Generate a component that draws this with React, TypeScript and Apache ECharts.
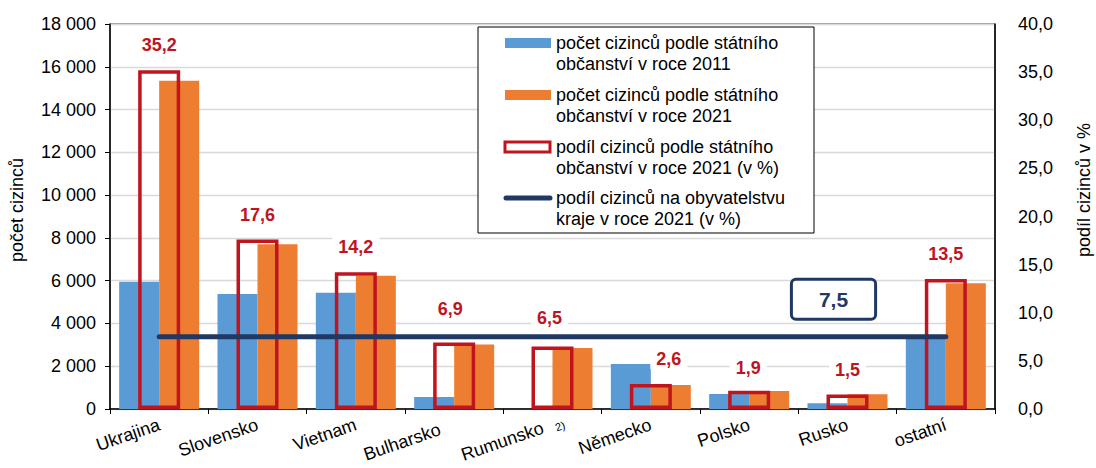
import React, { useEffect, useRef } from "react";
import * as echarts from "echarts";

const categories = ["Ukrajina", "Slovensko", "Vietnam", "Bulharsko", "Rumunsko", "Německo", "Polsko", "Rusko", "ostatní"];
const count2011 = [5950, 5380, 5430, 560, 0, 2100, 700, 270, 3400];
const count2021 = [15350, 7700, 6230, 3020, 2850, 1120, 840, 690, 5880];
const share2021 = [35.2, 17.6, 14.2, 6.9, 6.5, 2.6, 1.9, 1.5, 13.5];
const regionShare = 7.5;
const regionShareLine = categories.map(() => regionShare);
const legendLabels = [
  "počet cizinců podle státního\nobčanství v roce 2011",
  "počet cizinců podle státního\nobčanství v roce 2021",
  "podíl cizinců podle státního\nobčanství v roce 2021 (v %)",
  "podíl cizinců na obyvatelstvu\nkraje v roce 2021 (v %)",
];
const leftTitle = "počet cizinců";
const rightTitle = "podíl cizinců v %";
const footnoteMark = "2)";

const BLUE = "#5B9BD5";
const ORANGE = "#ED7D31";
const RED = "#C0141E";
const NAVY = "#1F3864";
const FONT = "'Liberation Sans', Arial, sans-serif";
const NB = "\u00a0";

// manual label nudges (layout only), as in the original chart
const labelNudge: Record<number, [number, number]> = { 3: [-4, -9], 4: [-3, -3], 5: [18, 0], 6: [-1, 2] };

const fmtThousands = (v: number) => String(v).replace(/\B(?=(\d{3})+(?!\d))/g, " ");
const fmtDec = (v: number) => v.toFixed(1).replace(".", ",");
const catLabel = (v: string) =>
  v === "Bulharsko" ? v + NB + NB + NB : v === "Rumunsko" ? v + NB + NB : v;

export default function App() {
  const ref = useRef<HTMLDivElement>(null);
  useEffect(() => {
    if (!ref.current) return;
    const chart = echarts.init(ref.current, null, { renderer: "svg" });
    const lx = 478, ly = 27;
    const iconYs = [43, 95, 147, 198];
    const legendGraphics: any[] = [
      { type: "rect", shape: { x: lx, y: ly, width: 336, height: 206 }, style: { fill: "#fff", stroke: "#000", lineWidth: 1 }, z: 100 },
      { type: "rect", shape: { x: 505, y: iconYs[0] - 5, width: 46, height: 10 }, style: { fill: BLUE }, z: 101 },
      { type: "rect", shape: { x: 505, y: iconYs[1] - 5, width: 46, height: 10 }, style: { fill: ORANGE }, z: 101 },
      { type: "rect", shape: { x: 505, y: iconYs[2] - 5, width: 45, height: 10 }, style: { fill: "#fff", stroke: RED, lineWidth: 3 }, z: 101 },
      { type: "line", shape: { x1: 506, y1: iconYs[3], x2: 550, y2: iconYs[3] }, style: { stroke: NAVY, lineWidth: 5, lineCap: "round" }, z: 101 },
      ...legendLabels.map((t, i) => ({
        type: "text",
        x: 556,
        y: iconYs[i] - 11,
        z: 101,
        style: { text: t, fill: "#000", font: `18px ${FONT}`, lineHeight: 21, textVerticalAlign: "top" },
      })),
      {
        type: "text", x: 17, y: 210, rotation: Math.PI / 2, z: 101,
        style: { text: leftTitle, fill: "#000", font: `18px ${FONT}`, textAlign: "center", textVerticalAlign: "middle" },
      },
      {
        type: "text", x: 1084, y: 190, rotation: Math.PI / 2, z: 101,
        style: { text: rightTitle, fill: "#000", font: `18px ${FONT}`, textAlign: "center", textVerticalAlign: "middle" },
      },
      {
        type: "text", x: 560, y: 426, rotation: (19 * Math.PI) / 180, z: 101,
        style: { text: footnoteMark, fill: "#000", font: `11px ${FONT}`, textAlign: "center", textVerticalAlign: "middle" },
      },
    ];

    chart.setOption({
      animation: false,
      backgroundColor: "#fff",
      textStyle: { fontFamily: FONT },
      grid: { left: 110, right: 101, top: 24, bottom: 59, show: true, borderColor: "#333", borderWidth: 1 },
      xAxis: [
        {
          type: "category",
          data: categories,
          axisLine: { lineStyle: { color: "#000", width: 1.5 } },
          axisTick: { show: true, length: 5, lineStyle: { color: "#000" } },
          axisLabel: {
            rotate: 19,
            margin: 15,
            fontSize: 18,
            color: "#000",
            fontFamily: FONT,
            formatter: catLabel,
          },
        },
        { type: "category", data: categories, show: false },
      ],
      yAxis: [
        {
          type: "value",
          min: 0, max: 18000, interval: 2000,
          axisLine: { show: true, lineStyle: { color: "#000", width: 1.5 } },
          axisTick: { show: true, length: 5, lineStyle: { color: "#000" } },
          axisLabel: { fontSize: 18, color: "#000", margin: 14, formatter: fmtThousands, fontFamily: FONT },
          splitLine: { lineStyle: { color: "#D9D9D9", width: 1.3 } },
        },
        {
          type: "value",
          min: 0, max: 40, interval: 5,
          position: "right",
          axisLine: { show: true, lineStyle: { color: "#000", width: 1.5 } },
          axisTick: { show: false },
          axisLabel: { fontSize: 18, color: "#000", margin: 23, formatter: fmtDec, fontFamily: FONT },
          splitLine: { show: false },
        },
      ],
      series: [
        { name: "2011", type: "bar", data: count2011, barWidth: 40, barGap: "0%", itemStyle: { color: BLUE }, z: 2 },
        { name: "2021", type: "bar", data: count2021, barWidth: 40, barGap: "0%", itemStyle: { color: ORANGE }, z: 2 },
        {
          name: "share",
          type: "bar",
          xAxisIndex: 1,
          yAxisIndex: 1,
          data: share2021.map((v, i) => (labelNudge[i] ? { value: v, label: { offset: labelNudge[i] } } : v)),
          barWidth: 42,
          itemStyle: { color: "rgba(255,255,255,0)", borderColor: RED, borderWidth: 3.5 },
          z: 3,
          label: {
            show: true,
            position: "top",
            distance: 15,
            formatter: (p: any) => fmtDec(p.value),
            color: RED,
            fontSize: 18,
            fontWeight: "bold",
            fontFamily: FONT,
            backgroundColor: "#fff",
            padding: [1, 6],
          },
        },
        {
          name: "region",
          type: "line",
          yAxisIndex: 1,
          data: regionShareLine.map((v, i) =>
            i === 7
              ? {
                  value: v,
                  label: {
                    show: true,
                    position: "top",
                    distance: 19,
                    offset: [-14, 0],
                    formatter: () => fmtDec(v),
                    color: NAVY,
                    fontSize: 21,
                    fontWeight: "bold",
                    fontFamily: FONT,
                    backgroundColor: "#fff",
                    borderColor: NAVY,
                    borderWidth: 3,
                    borderRadius: 3,
                    padding: [8, 26],
                  },
                }
              : v
          ),
          symbol: "circle",
          symbolSize: 0,
          lineStyle: { color: NAVY, width: 5, cap: "round" },
          itemStyle: { color: NAVY },
          z: 5,
        },
      ],
      graphic: legendGraphics,
    });
    return () => chart.dispose();
  }, []);
  return <div ref={ref} style={{ position: "fixed", left: 0, top: 0, width: 1096, height: 468 }} />;
}
